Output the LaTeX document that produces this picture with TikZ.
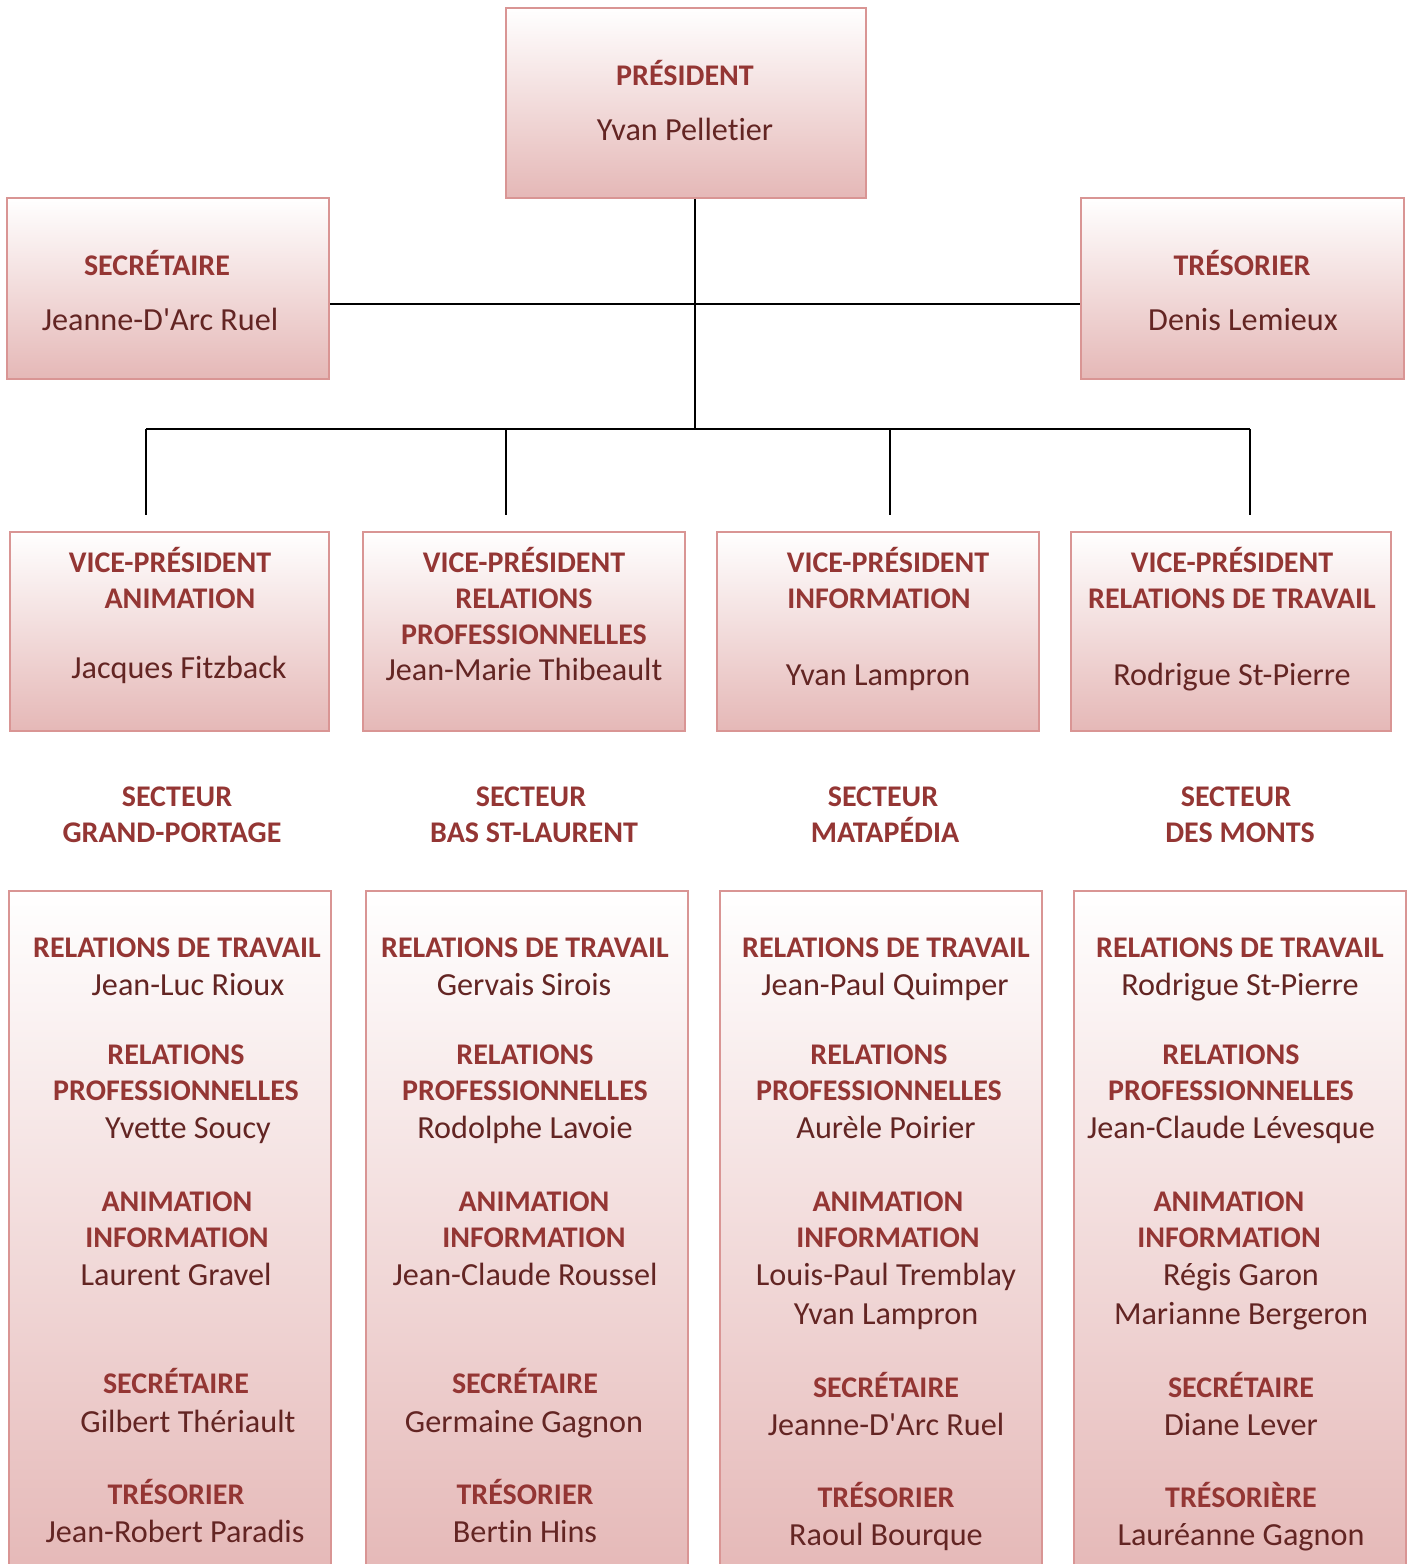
\documentclass[tikz,border=0pt]{standalone}
\usepackage{fontspec}
\setmainfont{Carlito}[Ligatures={TeXOff,CommonOff}]
\definecolor{headc}{HTML}{943634}
\definecolor{namec}{HTML}{632523}
\definecolor{edgec}{HTML}{D99594}
\definecolor{fillb}{HTML}{E5B8B7}
\tikzset{
  box/.style={draw=edgec, line width=2.5pt, top color=white, bottom color=fillb, inner sep=0pt},
  conn/.style={draw=black, line width=2pt},
  hdtext/.style={anchor=base, inner sep=0pt, text=headc, font=\fontsize{30}{36}\selectfont\bfseries},
  nmtext/.style={anchor=base, inner sep=0pt, text=namec, font=\fontsize{32.2}{38}\selectfont},
}
\newcommand\hdline[4]{\node[hdtext] (#1) at (#2,#3+10) {#4};}
\newcommand\nmline[4]{\node[nmtext] (#1) at (#2,#3+10) {#4};}
\begin{document}
\begin{tikzpicture}[x=1pt,y=-1pt]
\useasboundingbox (0,0) rectangle (1408,1564);
% boxes
\node[box, minimum width=360pt, minimum height=190pt] (pres) at (686,103) {};
\node[box, minimum width=322pt, minimum height=181pt] (sec) at (168,288.5) {};
\node[box, minimum width=323pt, minimum height=181pt] (tres) at (1242.5,288.5) {};
\node[box, minimum width=319pt, minimum height=199pt] (vp1) at (169.5,631.5) {};
\node[box, minimum width=322pt, minimum height=199pt] (vp2) at (524,631.5) {};
\node[box, minimum width=322pt, minimum height=199pt] (vp3) at (878,631.5) {};
\node[box, minimum width=320pt, minimum height=199pt] (vp4) at (1231,631.5) {};
\node[box, minimum width=322pt, minimum height=689pt] (s1) at (170,1235.5) {};
\node[box, minimum width=322pt, minimum height=689pt] (s2) at (527,1235.5) {};
\node[box, minimum width=322pt, minimum height=689pt] (s3) at (881,1235.5) {};
\node[box, minimum width=332pt, minimum height=689pt] (s4) at (1240,1235.5) {};
% connectors
\coordinate (mid) at (695,304);
\coordinate (hub) at (695,429);
\coordinate (v1) at (146,515);
\coordinate (v2) at (506,515);
\coordinate (v3) at (890,515);
\coordinate (v4) at (1250,515);
\draw[conn] (pres.south -| hub) -- (hub);
\draw[conn] (sec.east |- mid) -- (tres.west |- mid);
\draw[conn] (v1 |- hub) -- (v4 |- hub);
\draw[conn] (v1 |- hub) -- (v1);
\draw[conn] (v2 |- hub) -- (v2);
\draw[conn] (v3 |- hub) -- (v3);
\draw[conn] (v4 |- hub) -- (v4);
% top texts
\hdline{ph}{685}{75}{PRÉSIDENT}
\nmline{pn}{685}{130}{Yvan Pelletier}
\hdline{sh}{157}{265}{SECRÉTAIRE}
\nmline{sn}{160}{320}{Jeanne-D'Arc Ruel}
\hdline{th}{1242}{265}{TRÉSORIER}
\nmline{tn}{1243}{320}{Denis Lemieux}
% VP texts
\hdline{a1}{170}{562}{VICE-PRÉSIDENT}
\hdline{a2}{180}{598}{ANIMATION}
\nmline{a3}{179}{668}{Jacques Fitzback}
\hdline{b1}{524}{562}{VICE-PRÉSIDENT}
\hdline{b2}{524}{598}{RELATIONS}
\hdline{b3}{524}{634}{PROFESSIONNELLES}
\nmline{b4}{524}{670}{Jean-Marie Thibeault}
\hdline{c1}{888}{562}{VICE-PRÉSIDENT}
\hdline{c2}{879}{598}{INFORMATION}
\nmline{c3}{878}{675}{Yvan Lampron}
\hdline{d1}{1232}{562}{VICE-PRÉSIDENT}
\hdline{d2}{1232}{598}{RELATIONS DE TRAVAIL}
\nmline{d3}{1232}{675}{Rodrigue St-Pierre}
% secteurs
\hdline{e1}{177}{796}{SECTEUR}
\hdline{e2}{172}{832}{GRAND-PORTAGE}
\hdline{f1}{531}{796}{SECTEUR}
\hdline{f2}{534}{832}{BAS ST-LAURENT}
\hdline{g1}{883}{796}{SECTEUR}
\hdline{g2}{885}{832}{MATAPÉDIA}
\hdline{h1}{1236}{796}{SECTEUR}
\hdline{h2}{1240}{832}{DES MONTS}
% box 1
\hdline{k1}{177}{947}{RELATIONS DE TRAVAIL}
\nmline{k2}{188}{985}{Jean-Luc Rioux}
\hdline{k3}{176}{1054}{RELATIONS}
\hdline{k4}{176}{1090}{PROFESSIONNELLES}
\nmline{k5}{188}{1128}{Yvette Soucy}
\hdline{k6}{177}{1201}{ANIMATION}
\hdline{k7}{177}{1237}{INFORMATION}
\nmline{k8}{176}{1275}{Laurent Gravel}
\hdline{k9}{176}{1383}{SECRÉTAIRE}
\nmline{k10}{188}{1422}{Gilbert Thériault}
\hdline{k11}{176}{1494}{TRÉSORIER}
\nmline{k12}{175}{1532}{Jean-Robert Paradis}
% box 2
\hdline{l1}{525}{947}{RELATIONS DE TRAVAIL}
\nmline{l2}{524}{985}{Gervais Sirois}
\hdline{l3}{525}{1054}{RELATIONS}
\hdline{l4}{525}{1090}{PROFESSIONNELLES}
\nmline{l5}{525}{1128}{Rodolphe Lavoie}
\hdline{l6}{534}{1201}{ANIMATION}
\hdline{l7}{534}{1237}{INFORMATION}
\nmline{l8}{525}{1275}{Jean-Claude Roussel}
\hdline{l9}{525}{1383}{SECRÉTAIRE}
\nmline{l10}{524}{1422}{Germaine Gagnon}
\hdline{l11}{525}{1494}{TRÉSORIER}
\nmline{l12}{525}{1532}{Bertin Hins}
% box 3
\hdline{m1}{886}{947}{RELATIONS DE TRAVAIL}
\nmline{m2}{885}{985}{Jean-Paul Quimper}
\hdline{m3}{879}{1054}{RELATIONS}
\hdline{m4}{879}{1090}{PROFESSIONNELLES}
\nmline{m5}{886}{1128}{Aurèle Poirier}
\hdline{m6}{888}{1201}{ANIMATION}
\hdline{m7}{888}{1237}{INFORMATION}
\nmline{m8}{886}{1275}{Louis-Paul Tremblay}
\nmline{m9}{886}{1314}{Yvan Lampron}
\hdline{m10}{886}{1387}{SECRÉTAIRE}
\nmline{m11}{886}{1425}{Jeanne-D'Arc Ruel}
\hdline{m12}{886}{1497}{TRÉSORIER}
\nmline{m13}{886}{1535}{Raoul Bourque}
% box 4
\hdline{n1}{1240}{947}{RELATIONS DE TRAVAIL}
\nmline{n2}{1240}{985}{Rodrigue St-Pierre}
\hdline{n3}{1231}{1054}{RELATIONS}
\hdline{n4}{1231}{1090}{PROFESSIONNELLES}
\nmline{n5}{1231}{1128}{Jean-Claude Lévesque}
\hdline{n6}{1229}{1201}{ANIMATION}
\hdline{n7}{1229}{1237}{INFORMATION}
\nmline{n8}{1241}{1275}{Régis Garon}
\nmline{n9}{1241}{1314}{Marianne Bergeron}
\hdline{n10}{1241}{1387}{SECRÉTAIRE}
\nmline{n11}{1241}{1425}{Diane Lever}
\hdline{n12}{1241}{1497}{TRÉSORIÈRE}
\nmline{n13}{1241}{1535}{Lauréanne Gagnon}
\end{tikzpicture}
\end{document}
